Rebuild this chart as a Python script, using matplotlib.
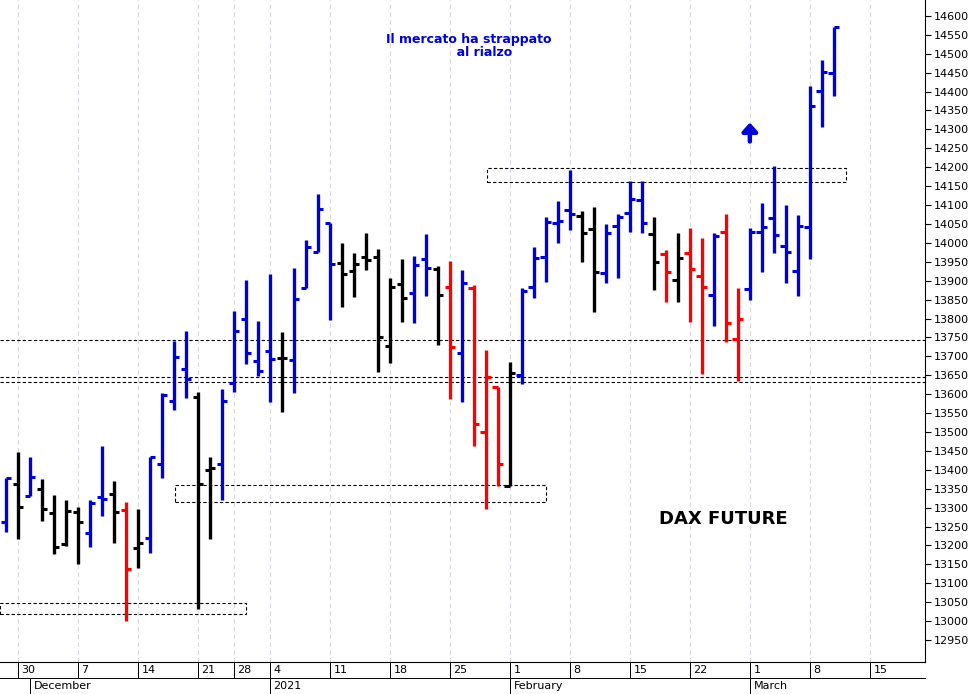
import matplotlib
matplotlib.use("Agg")
import matplotlib.pyplot as plt
from matplotlib.patches import Rectangle
from matplotlib.lines import Line2D

# OHLC of DAX future, one bar per trading day from 27 Nov 2020 to 10 Mar 2021
opens = [13262, 13362, 13331, 13349, 13286, 13204, 13288, 13233, 13328, 13336,
         13294, 13193, 13220, 13415, 13582, 13667, 13592, 13399, 13415, 13630,
         13799, 13688, 13714, 13696, 13690, 13881, 13976, 14053, 13947, 13926,
         13963, 13963, 13727, 13891, 13868, 13957, 13931, 13883, 13709, 13881,
         13500, 13619, 13357, 13651, 13883, 13963, 14053, 14087, 14071, 14037,
         13920, 14045, 14079, 14113, 14024, 13971, 13902, 13973, 13912, 13862,
         14029, 13746, 13878, 14029, 14066, 13992, 13926, 14042, 14402, 14449]
highs = [13378, 13447, 13434, 13376, 13333, 13320, 13301, 13320, 13463, 13370,
         13315, 13296, 13434, 13603, 13741, 13767, 13606, 13434, 13614, 13820,
         13902, 13793, 13918, 13764, 13934, 14008, 14129, 14053, 14000, 13973,
         14026, 13984, 13907, 13957, 13965, 14024, 13939, 13952, 13928, 13889,
         13717, 13619, 13685, 13881, 13989, 14069, 14111, 14193, 14084, 14095,
         14050, 14077, 14164, 14164, 14069, 13981, 14026, 14039, 14013, 14026,
         14077, 13881, 14039, 14106, 14203, 14100, 14074, 14415, 14484, 14571]
lows = [13235, 13217, 13331, 13264, 13177, 13198, 13151, 13196, 13278, 13206,
        13000, 13140, 13180, 13378, 13558, 13590, 13032, 13217, 13320, 13606,
        13680, 13648, 13579, 13553, 13603, 13881, 13976, 13796, 13830, 13857,
        13928, 13659, 13682, 13791, 13788, 13860, 13730, 13587, 13579, 13463,
        13296, 13357, 13357, 13627, 13854, 13897, 14000, 14034, 13950, 13817,
        13894, 13907, 14029, 14026, 13875, 13844, 13844, 13791, 13653, 13780,
        13738, 13635, 13849, 13923, 13973, 13894, 13860, 13957, 14307, 14389]
closes = [13378, 13301, 13381, 13296, 13196, 13291, 13262, 13312, 13323, 13288,
          13138, 13206, 13434, 13598, 13698, 13640, 13362, 13405, 13582, 13767,
          13709, 13661, 13693, 13696, 13852, 13989, 14090, 13944, 13918, 13944,
          13955, 13751, 13883, 13854, 13942, 13934, 13862, 13725, 13894, 13521,
          13645, 13415, 13656, 13873, 13960, 14055, 14058, 14077, 14026, 13923,
          14026, 14069, 14116, 14053, 13950, 13923, 13960, 13931, 13883, 14018,
          13788, 13799, 14029, 14042, 14021, 13976, 14045, 14362, 14452, 14571]
bar_colors = "BKBKKKKBBKRKBBBBKKBBBBBKBBBBKKKKKKBBKRBRRRKBBBBBKKBBBBKRKRRBRRBBBBBBBB"

day_pos = [1, 6, 11, 16, 19, 22, 27, 32, 37, 42, 47, 52, 57, 62, 67, 72]
day_labels = ["30", "7", "14", "21", "28", "4", "11", "18", "25", "1", "8", "15", "22", "1", "8", "15"]
month_pos = [2, 22, 42, 62]
month_labels = ["December", "2021", "February", "March"]
levels = [13743, 13645, 13632]
boxes = [(-0.5, 20, 13019, 13048), (14.1, 45, 13315, 13360), (40.1, 70, 14161, 14198)]

cmap = {"B": "#0000dd", "K": "black", "R": "#ff0000"}

fig = plt.figure(figsize=(9.73, 6.94), dpi=100)
ax = fig.add_axes([0, 32 / 694, 925 / 973, 662 / 694])

for p in day_pos:
    ax.axvline(p, color="#d8d8e0", lw=0.8, ls=(0, (4, 3)), zorder=0)

for i in range(len(opens)):
    c = cmap[bar_colors[i]]
    ax.vlines(i, lows[i], highs[i], color=c, lw=2.4, zorder=3)
    ax.hlines(opens[i], i - 0.45, i, color=c, lw=2.2, zorder=3)
    ax.hlines(closes[i], i, i + 0.45, color=c, lw=2.2, zorder=3)

for lv in levels:
    ax.axhline(lv, color="black", lw=0.8, ls=(0, (3, 2)), zorder=2)
for x0, x1, y0, y1 in boxes:
    ax.add_patch(Rectangle((x0, y0), x1 - x0, y1 - y0, fill=False, ec="black",
                           lw=0.8, ls=(0, (3, 2)), zorder=2))

ax.text(38.6, 14555, "Il mercato ha strappato\n       al rialzo", color="#0000dd",
        fontsize=9, fontweight="bold", ha="center", va="top", linespacing=1.0)
ax.text(59.8, 13270, "DAX FUTURE", fontsize=13, fontweight="bold", ha="center", va="center")
ax.annotate("", xy=(62, 14318), xytext=(62, 14268),
            arrowprops=dict(arrowstyle="-|>,head_width=0.45,head_length=0.5",
                            color="#0000dd", lw=3.2, shrinkA=0, shrinkB=0))

ax.set_xlim(-0.5, 76.6)
ax.set_ylim(12892, 14642)
ax.yaxis.tick_right()
ax.set_yticks(range(12950, 14601, 50))
ax.tick_params(axis="y", labelsize=8, length=4, pad=2)
ax.set_xticks([])
for s in ["left", "top"]:
    ax.spines[s].set_visible(False)
ax.spines["right"].set_linewidth(0.8)
ax.spines["bottom"].set_linewidth(0.8)

trans = ax.get_xaxis_transform()
for p, lab in zip(day_pos, day_labels):
    ax.add_line(Line2D([p, p], [0, -16 / 662], transform=trans, color="black", lw=0.7, clip_on=False))
    ax.text(p + 0.3, -8 / 662, lab, transform=trans, fontsize=8, ha="left", va="center")
for p, lab in zip(month_pos, month_labels):
    ax.add_line(Line2D([p, p], [-16 / 662, -32 / 662], transform=trans, color="black", lw=0.7, clip_on=False))
    ax.text(p + 0.3, -24 / 662, lab, transform=trans, fontsize=8, ha="left", va="center")
fig.add_artist(Line2D([0, 925 / 973], [16 / 694, 16 / 694], color="black", lw=0.7))

fig.savefig("out.png", dpi=100)
